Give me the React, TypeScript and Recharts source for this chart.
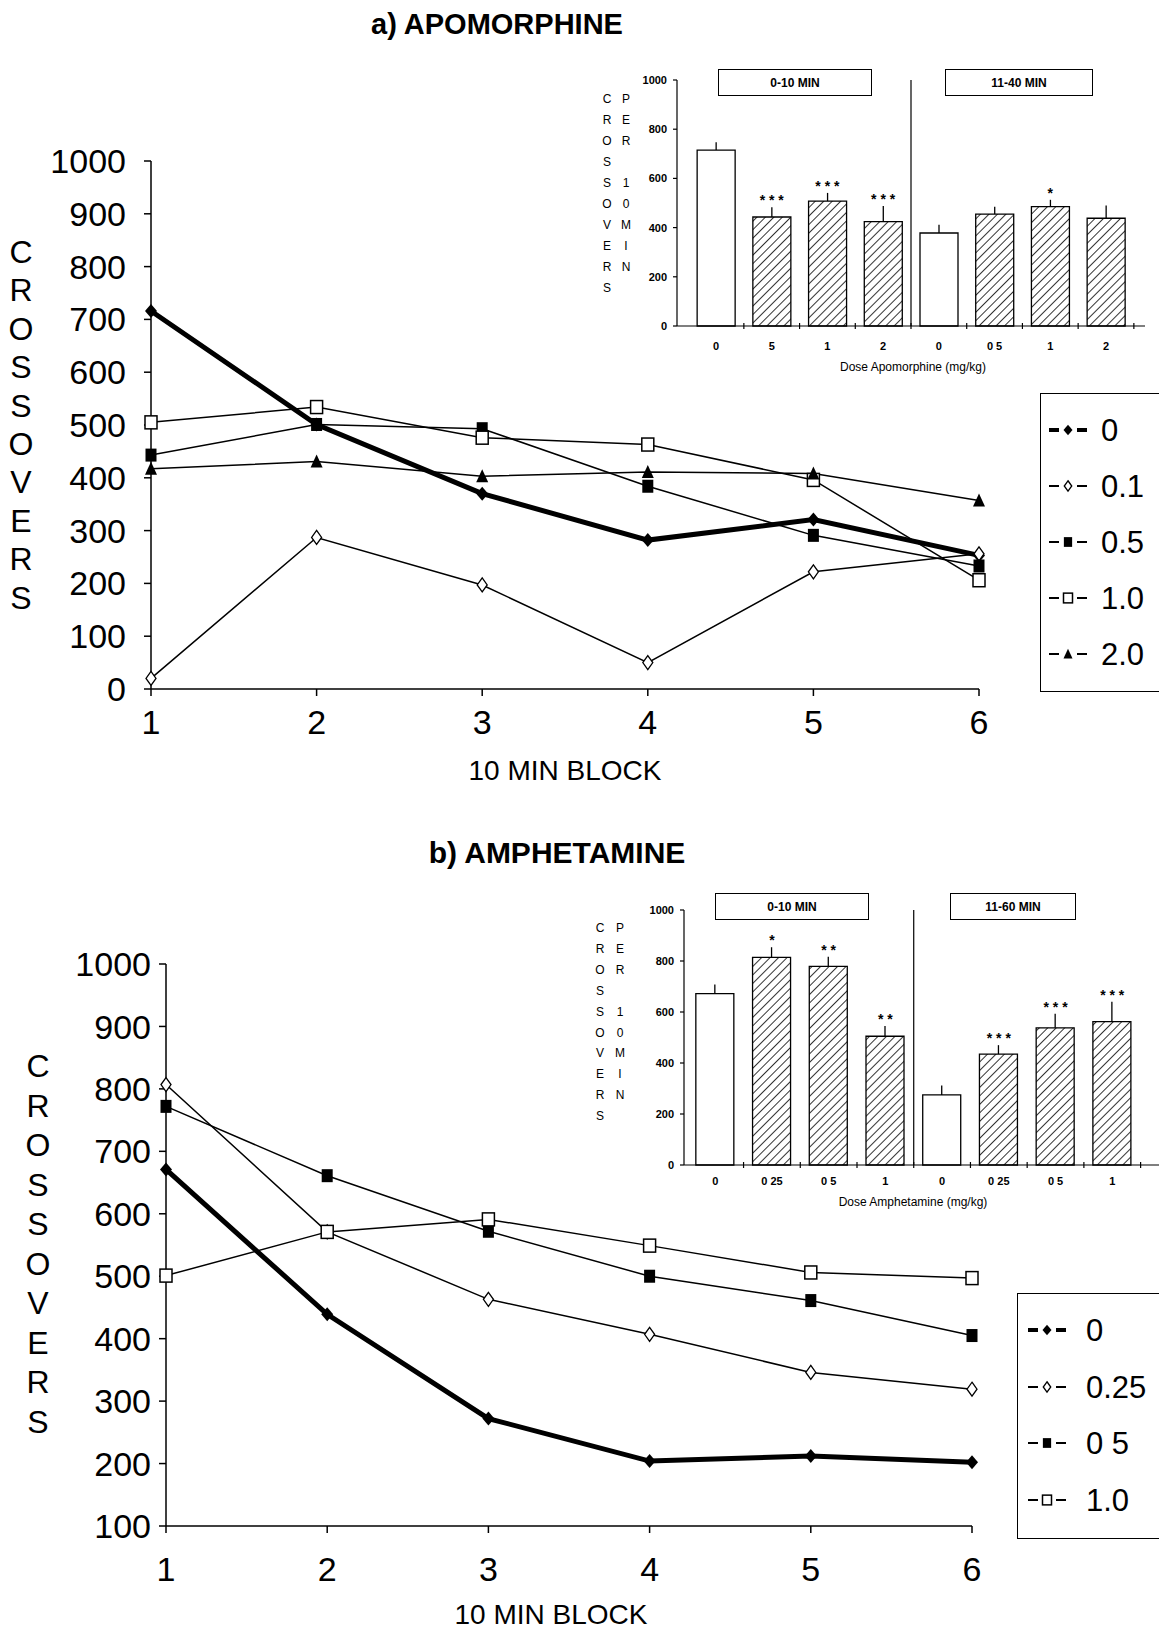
import React from "react";
import {
  LineChart,
  Line,
  XAxis,
  YAxis,
  ComposedChart,
  Bar,
  Cell,
  ErrorBar,
  LabelList,
  ReferenceLine,
} from "recharts";

const FONT = "'Liberation Sans', Arial, sans-serif";

// main line charts
const blocks = [1, 2, 3, 4, 5, 6];

const apoDose0 = [716, 501, 370, 282, 321, 253];
const apoDose01 = [20, 287, 197, 50, 222, 256];
const apoDose05 = [443, 501, 493, 384, 291, 233];
const apoDose10 = [505, 534, 476, 463, 396, 206];
const apoDose20 = [417, 431, 403, 411, 408, 357];
const apoYTicks = [0, 100, 200, 300, 400, 500, 600, 700, 800, 900, 1000];

const ampDose0 = [671, 439, 272, 204, 212, 202];
const ampDose025 = [807, 571, 463, 407, 346, 319];
const ampDose05 = [772, 661, 572, 500, 461, 405];
const ampDose10 = [501, 571, 591, 549, 506, 497];
const ampYTicks = [100, 200, 300, 400, 500, 600, 700, 800, 900, 1000];

// inset bar charts
const insetYTicks = [0, 200, 400, 600, 800, 1000];
const insetXTicks = [1, 1.5, 2, 2.5, 3, 3.5, 4, 4.5, 5, 5.5, 6, 6.5, 7, 7.5, 8, 8.5];
const apoInsetLabels = ["0", "5", "1", "2", "0", "0 5", "1", "2"];
const apoInsetMeans = [715, 443, 508, 424, 378, 455, 485, 438];
const apoInsetSem = [32, 40, 33, 64, 34, 30, 28, 52];
const apoInsetStars = ["", "* * *", "* * *", "* * *", "", "", "*", ""];
const apoInsetHatched = [false, true, true, true, false, true, true, true];

const ampInsetLabels = ["0", "0 25", "0 5", "1", "0", "0 25", "0 5", "1"];
const ampInsetMeans = [672, 814, 779, 505, 275, 435, 538, 562];
const ampInsetSem = [36, 40, 38, 40, 37, 35, 55, 78];
const ampInsetStars = ["", "*", "* *", "* *", "", "* * *", "* * *", "* * *"];
const ampInsetHatched = [false, true, true, true, false, true, true, true];

type Kind = "diamond" | "openDiamond" | "square" | "openSquare" | "triangle";

function Marker({ cx, cy, kind, s = 1 }: { cx: number; cy: number; kind: Kind; s?: number }) {
  if (cx == null || cy == null) return null;
  switch (kind) {
    case "diamond":
      return (
        <path
          d={`M${cx},${cy - 7 * s} L${cx + 6 * s},${cy} L${cx},${cy + 7 * s} L${cx - 6 * s},${cy} Z`}
          fill="#000"
        />
      );
    case "openDiamond":
      return (
        <path
          d={`M${cx},${cy - 7 * s} L${cx + 5 * s},${cy} L${cx},${cy + 7 * s} L${cx - 5 * s},${cy} Z`}
          fill="#fff"
          stroke="#000"
          strokeWidth={1.3}
        />
      );
    case "square":
      return <rect x={cx - 5.5 * s} y={cy - 6.5 * s} width={11 * s} height={13 * s} fill="#000" />;
    case "openSquare":
      return (
        <rect
          x={cx - 6 * s}
          y={cy - 6.5 * s}
          width={12 * s}
          height={13 * s}
          fill="#fff"
          stroke="#000"
          strokeWidth={1.5}
        />
      );
    case "triangle":
      return (
        <path
          d={`M${cx},${cy - 7 * s} L${cx + 6 * s},${cy + 6 * s} L${cx - 6 * s},${cy + 6 * s} Z`}
          fill="#000"
        />
      );
  }
}

const makeDot = (kind: Kind) => (p: any) =>
  <Marker key={`dot-${kind}-${p.index}`} cx={p.cx} cy={p.cy} kind={kind} />;

interface SeriesDef {
  key: string;
  label: string;
  kind: Kind;
  width: number;
}

const apoSeries: SeriesDef[] = [
  { key: "d0", label: "0", kind: "diamond", width: 5 },
  { key: "d01", label: "0.1", kind: "openDiamond", width: 1.5 },
  { key: "d05", label: "0.5", kind: "square", width: 1.5 },
  { key: "d10", label: "1.0", kind: "openSquare", width: 1.5 },
  { key: "d20", label: "2.0", kind: "triangle", width: 1.5 },
];

const ampSeries: SeriesDef[] = [
  { key: "d0", label: "0", kind: "diamond", width: 5 },
  { key: "d025", label: "0.25", kind: "openDiamond", width: 1.5 },
  { key: "d05", label: "0 5", kind: "square", width: 1.5 },
  { key: "d10", label: "1.0", kind: "openSquare", width: 1.5 },
];

const apoData = blocks.map((b, i) => ({
  block: b,
  d0: apoDose0[i],
  d01: apoDose01[i],
  d05: apoDose05[i],
  d10: apoDose10[i],
  d20: apoDose20[i],
}));

const ampData = blocks.map((b, i) => ({
  block: b,
  d0: ampDose0[i],
  d025: ampDose025[i],
  d05: ampDose05[i],
  d10: ampDose10[i],
}));

function LetterColumn({
  x,
  y,
  step,
  letters,
  size,
  weight = 400,
}: {
  x: number;
  y: number;
  step: number;
  letters: string[];
  size: number;
  weight?: number;
}) {
  return (
    <>
      {letters.map((l, i) => (
        <div
          key={i}
          style={{
            position: "absolute",
            left: x,
            top: y + i * step,
            transform: "translate(-50%, -50%)",
            fontSize: size,
            fontWeight: weight,
            lineHeight: 1,
          }}
        >
          {l}
        </div>
      ))}
    </>
  );
}

function Label({ x, y, size, bold, children }: any) {
  return (
    <div
      style={{
        position: "absolute",
        left: x,
        top: y,
        transform: "translate(-50%, -50%)",
        fontSize: size,
        fontWeight: bold ? 700 : 400,
        whiteSpace: "nowrap",
        lineHeight: 1,
      }}
    >
      {children}
    </div>
  );
}

function Legend({
  left,
  top,
  height,
  rowTop,
  rowStep,
  markerX,
  textX,
  series,
}: {
  left: number;
  top: number;
  height: number;
  rowTop: number;
  rowStep: number;
  markerX: number;
  textX: number;
  series: SeriesDef[];
}) {
  return (
    <div
      style={{
        position: "absolute",
        left,
        top,
        width: 200,
        height,
        border: "1.5px solid #000",
      }}
    >
      {series.map((s, i) => (
        <div key={s.key}>
          <svg
            width={44}
            height={20}
            style={{ position: "absolute", left: markerX - 22, top: rowTop + i * rowStep - 10 }}
          >
            <line x1={3} y1={10} x2={13} y2={10} stroke="#000" strokeWidth={s.width > 2 ? 4 : 2} />
            <line x1={31} y1={10} x2={41} y2={10} stroke="#000" strokeWidth={s.width > 2 ? 4 : 2} />
            <Marker cx={22} cy={10} kind={s.kind} s={0.75} />
          </svg>
          <div
            style={{
              position: "absolute",
              left: textX,
              top: rowTop + i * rowStep,
              transform: "translateY(-50%)",
              fontSize: 31,
              lineHeight: 1,
            }}
          >
            {s.label}
          </div>
        </div>
      ))}
    </div>
  );
}

function MainChart({
  top,
  height,
  margin,
  data,
  series,
  yDomain,
  yTicks,
  xTickMargin,
  yTickMargin,
}: any) {
  return (
    <div style={{ position: "absolute", left: 0, top }}>
      <LineChart width={1000} height={height} data={data} margin={margin}>
        <XAxis
          dataKey="block"
          type="number"
          domain={[1, 6]}
          ticks={blocks}
          interval={0}
          height={60}
          tickSize={7}
          tickMargin={xTickMargin}
          stroke="#000"
          strokeWidth={1.5}
          tick={{ fontSize: 34, fill: "#000", fontFamily: FONT }}
        />
        <YAxis
          type="number"
          domain={yDomain}
          ticks={yTicks}
          interval={0}
          width={80}
          tickSize={7}
          tickMargin={yTickMargin}
          stroke="#000"
          strokeWidth={1.5}
          tick={{ fontSize: 34, fill: "#000", fontFamily: FONT }}
        />
        {series.map((s: SeriesDef) => (
          <Line
            key={s.key}
            type="linear"
            dataKey={s.key}
            stroke="#000"
            strokeWidth={s.width}
            dot={makeDot(s.kind)}
            activeDot={false}
            isAnimationActive={false}
          />
        ))}
      </LineChart>
    </div>
  );
}

// inset x ticks: labels at bar centres, small crosses at the group boundaries
const insetTick = (labels: string[], gap: number) => (p: any) => {
  const v = p.payload.value;
  const axisY = p.y - gap;
  if (Number.isInteger(v)) {
    return (
      <text
        key={`t-${v}`}
        x={p.x}
        y={p.y}
        dy="0.71em"
        textAnchor="middle"
        fontSize={11}
        fontWeight={700}
        fontFamily={FONT}
        fill="#000"
      >
        {labels[v - 1]}
      </text>
    );
  }
  return (
    <line key={`t-${v}`} x1={p.x} x2={p.x} y1={axisY - 3} y2={axisY + 3} stroke="#000" strokeWidth={1.2} />
  );
};

function Inset({
  left,
  top,
  width,
  height,
  margin,
  domain,
  labels,
  means,
  sem,
  stars,
  hatched,
  patternId,
  labelGap,
}: any) {
  const data = labels.map((l: string, i: number) => ({
    x: i + 1,
    mean: means[i],
    err: [0, sem[i]],
    top: means[i] + sem[i],
    stars: stars[i],
  }));
  return (
    <div style={{ position: "absolute", left, top }}>
      <ComposedChart width={width} height={height} data={data} margin={margin}>
        <defs>
          <pattern
            id={patternId}
            patternUnits="userSpaceOnUse"
            width={6}
            height={6}
            patternTransform="rotate(45)"
          >
            <rect width={6} height={6} fill="#fff" />
            <line x1={0} y1={0} x2={0} y2={6} stroke="#000" strokeWidth={1.6} />
          </pattern>
        </defs>
        <XAxis
          dataKey="x"
          type="number"
          domain={domain}
          ticks={insetXTicks}
          interval={0}
          allowDataOverflow
          tickLine={false}
          tickSize={0}
          tickMargin={labelGap}
          height={40}
          stroke="#000"
          strokeWidth={1.2}
          tick={insetTick(labels, labelGap)}
        />
        <YAxis
          type="number"
          domain={[0, 1000]}
          ticks={insetYTicks}
          interval={0}
          width={40}
          tickSize={4}
          tickMargin={6}
          stroke="#000"
          strokeWidth={1.2}
          tick={{ fontSize: 11, fontWeight: 700, fill: "#000", fontFamily: FONT }}
        />
        <ReferenceLine x={4.5} stroke="#000" strokeWidth={1.2} />
        <Bar dataKey="mean" barSize={38} stroke="#000" strokeWidth={1.3} isAnimationActive={false}>
          {data.map((_: any, i: number) => (
            <Cell key={i} fill={hatched[i] ? `url(#${patternId})` : "#fff"} />
          ))}
          <ErrorBar dataKey="err" direction="y" width={0} stroke="#000" strokeWidth={1.3} />
        </Bar>
        <Line dataKey="top" stroke="none" dot={false} activeDot={false} isAnimationActive={false}>
          <LabelList
            dataKey="stars"
            position="top"
            offset={2}
            fill="#000"
            style={{ fontSize: 14, fontWeight: 700, fontFamily: FONT }}
          />
        </Line>
      </ComposedChart>
    </div>
  );
}

function PeriodBox({ x1, x2, y1, y2, text }: any) {
  return (
    <div
      style={{
        position: "absolute",
        left: x1,
        top: y1,
        width: x2 - x1,
        height: y2 - y1,
        border: "1.5px solid #000",
        boxSizing: "border-box",
        display: "flex",
        alignItems: "center",
        justifyContent: "center",
        fontSize: 12,
        fontWeight: 700,
      }}
    >
      {text}
    </div>
  );
}

const CROSSOVERS = "CROSSOVERS".split("");
const PER10MIN = ["P", "E", "R", "", "1", "0", "M", "I", "N"];

export default function App() {
  return (
    <div
      style={{
        position: "relative",
        width: 1159,
        height: 1632,
        overflow: "hidden",
        background: "#fff",
        fontFamily: FONT,
        color: "#000",
      }}
    >
      <style>{"body{margin:0}"}</style>

      {/* a) apomorphine */}
      <Label x={497} y={24} size={29} bold>
        a) APOMORPHINE
      </Label>
      <MainChart
        top={0}
        height={760}
        margin={{ top: 161, right: 21, bottom: 11, left: 71 }}
        data={apoData}
        series={apoSeries}
        yDomain={[0, 1000]}
        yTicks={apoYTicks}
        xTickMargin={14}
        yTickMargin={18}
      />
      <LetterColumn x={21} y={252} step={38.4} letters={CROSSOVERS} size={32} />
      <Label x={565} y={771} size={28}>
        10 MIN BLOCK
      </Label>
      <Legend
        left={1040}
        top={393}
        height={297}
        rowTop={36}
        rowStep={56}
        markerX={27}
        textX={60}
        series={apoSeries}
      />
      <Inset
        left={560}
        top={40}
        width={599}
        height={350}
        margin={{ top: 40, right: 14, bottom: 24, left: 77 }}
        domain={[0.3, 8.7]}
        labels={apoInsetLabels}
        means={apoInsetMeans}
        sem={apoInsetSem}
        stars={apoInsetStars}
        hatched={apoInsetHatched}
        patternId="hatchApo"
        labelGap={16}
      />
      <PeriodBox x1={718} x2={872} y1={69} y2={96} text="0-10 MIN" />
      <PeriodBox x1={945} x2={1093} y1={69} y2={96} text="11-40 MIN" />
      <LetterColumn x={607} y={99} step={21} letters={CROSSOVERS} size={12} />
      <LetterColumn x={626} y={99} step={21} letters={PER10MIN} size={12} />
      <Label x={913} y={367} size={12}>
        Dose Apomorphine (mg/kg)
      </Label>

      {/* b) amphetamine */}
      <Label x={557} y={853} size={30} bold>
        b) AMPHETAMINE
      </Label>
      <MainChart
        top={800}
        height={800}
        margin={{ top: 164, right: 28, bottom: 14, left: 86 }}
        data={ampData}
        series={ampSeries}
        yDomain={[100, 1000]}
        yTicks={ampYTicks}
        xTickMargin={24}
        yTickMargin={8}
      />
      <LetterColumn x={38} y={1066} step={39.5} letters={CROSSOVERS} size={32} />
      <Label x={551} y={1615} size={28}>
        10 MIN BLOCK
      </Label>
      <Legend
        left={1017}
        top={1293}
        height={244}
        rowTop={36}
        rowStep={56.5}
        markerX={29}
        textX={68}
        series={ampSeries}
      />
      <Inset
        left={560}
        top={870}
        width={615}
        height={359}
        margin={{ top: 40, right: 10, bottom: 24, left: 84 }}
        domain={[0.45, 8.93]}
        labels={ampInsetLabels}
        means={ampInsetMeans}
        sem={ampInsetSem}
        stars={ampInsetStars}
        hatched={ampInsetHatched}
        patternId="hatchAmp"
        labelGap={12}
      />
      <PeriodBox x1={715} x2={869} y1={893} y2={920} text="0-10 MIN" />
      <PeriodBox x1={950} x2={1076} y1={893} y2={920} text="11-60 MIN" />
      <LetterColumn x={600} y={928} step={20.9} letters={CROSSOVERS} size={12} />
      <LetterColumn x={620} y={928} step={20.9} letters={PER10MIN} size={12} />
      <Label x={913} y={1202} size={12}>
        Dose Amphetamine (mg/kg)
      </Label>
    </div>
  );
}
